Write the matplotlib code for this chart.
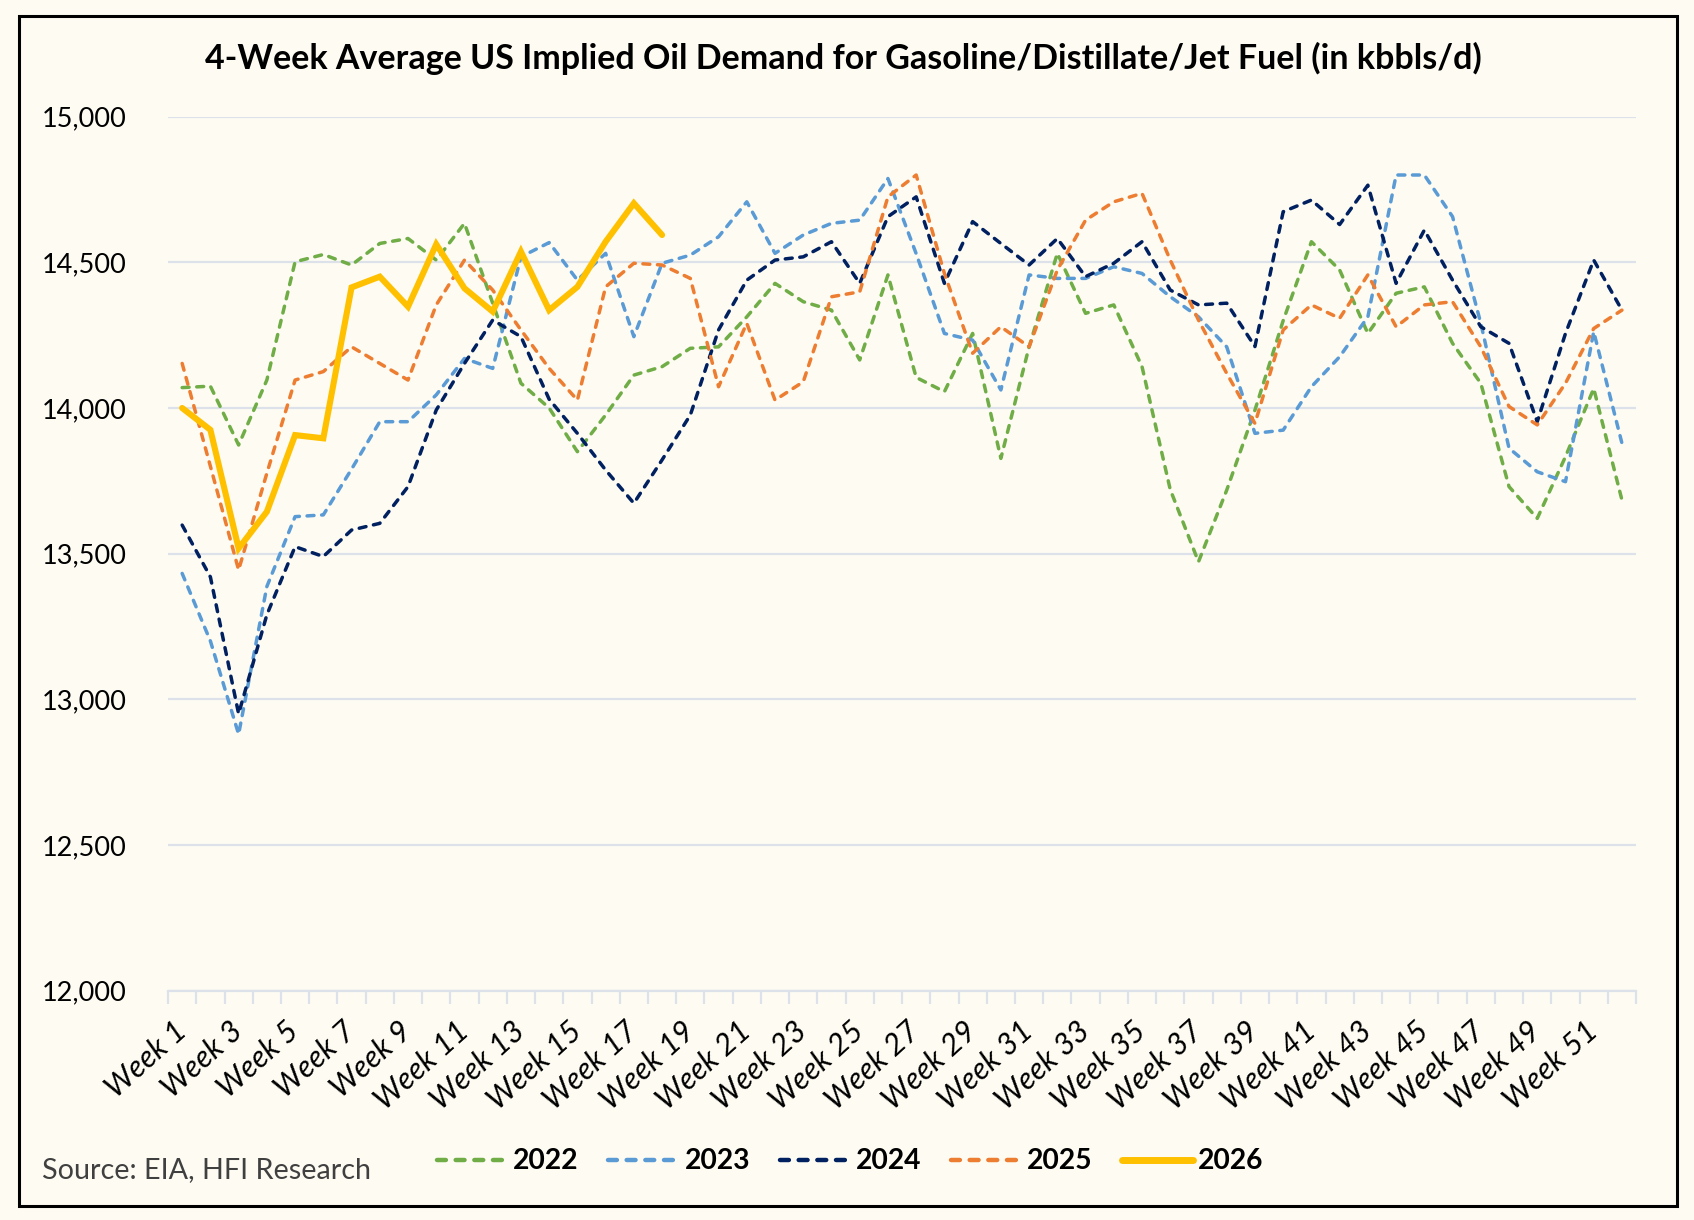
import numpy as np
import matplotlib.pyplot as plt
from matplotlib.patches import Rectangle
from matplotlib.ticker import FuncFormatter

plt.rcParams['font.family'] = ['Lato', 'DejaVu Sans']

weeks = list(range(1, 53))
week_labels = [f"Week {w}" for w in weeks]

y2022 = [14070, 14075, 13873, 14096, 14502, 14527, 14491, 14565, 14582, 14508,
         14634, 14360, 14085, 14000, 13850, 13976, 14113, 14142, 14205, 14210,
         14313, 14428, 14365, 14336, 14165, 14457, 14105, 14056, 14256, 13827,
         14210, 14531, 14325, 14354, 14142, 13720, 13472, 13718, 13993, 14300,
         14571, 14474, 14256, 14394, 14416, 14222, 14085, 13730, 13621, 13833,
         14067, 13684]
y2023 = [13432, 13200, 12880, 13387, 13627, 13633, 13790, 13953, 13953, 14045,
         14170, 14136, 14519, 14568, 14439, 14531, 14245, 14497, 14525, 14588,
         14708, 14531, 14594, 14634, 14645, 14788, 14530, 14256, 14233, 14062,
         14457, 14445, 14445, 14485, 14462, 14382, 14313, 14210, 13913, 13924,
         14073, 14176, 14313, 14800, 14800, 14657, 14291, 13862, 13781, 13747,
         14262, 13879]
y2024 = [13598, 13420, 12950, 13290, 13524, 13490, 13581, 13604, 13730, 13993,
         14153, 14302, 14245, 14030, 13913, 13787, 13673, 13822, 13976, 14268,
         14439, 14508, 14519, 14571, 14428, 14657, 14725, 14428, 14640, 14565,
         14491, 14582, 14451, 14497, 14571, 14405, 14354, 14360, 14211, 14674,
         14714, 14630, 14765, 14428, 14611, 14439, 14279, 14222, 13953, 14256,
         14508, 14336]
y2025 = [14153, 13800, 13444, 13776, 14096, 14125, 14210, 14153, 14096, 14354,
         14508, 14405, 14268, 14136, 14027, 14416, 14497, 14491, 14445, 14073,
         14291, 14027, 14090, 14382, 14399, 14725, 14800, 14462, 14188, 14279,
         14210, 14474, 14645, 14708, 14737, 14508, 14302, 14119, 13947, 14268,
         14354, 14308, 14457, 14279, 14354, 14365, 14210, 14005, 13942, 14085,
         14273, 14336]
y2026 = [14000, 13925, 13518, 13644, 13907, 13896, 14414, 14451, 14348, 14562,
         14411, 14331, 14537, 14336, 14416, 14571, 14703, 14594]

series = [("2022", y2022, "#70AD47"),
          ("2023", y2023, "#5B9BD5"),
          ("2024", y2024, "#002060"),
          ("2025", y2025, "#ED7D31")]

bg = "#FDFBF2"
grid_c = "#DCE1EA"

fig = plt.figure(figsize=(16.94, 12.2), dpi=100, facecolor=bg)
ax = fig.add_axes([0.0992, 0.1881, 0.8666, 0.7162], facecolor=bg)

for name, vals, col in series:
    ax.plot(weeks, vals, color=col, lw=2.5, linestyle=(0, (2.0, 2.2)),
            dash_capstyle='round', label=name)
ax.plot(weeks[:len(y2026)], y2026, color="#FFC000", lw=4.4,
        solid_capstyle='round', solid_joinstyle='miter', label="2026", zorder=5)

ax.set_xlim(0.5, 52.5)
ax.set_ylim(12000, 15000)
ax.set_yticks(np.arange(12000, 15001, 500))
ax.yaxis.set_major_formatter(FuncFormatter(lambda v, p: f"{v:,.0f}"))
ax.grid(axis='y', color=grid_c, lw=1.6)
ax.set_axisbelow(True)
for s in ['top', 'right', 'left']:
    ax.spines[s].set_visible(False)
ax.spines['bottom'].set_color(grid_c)
ax.spines['bottom'].set_linewidth(1.6)

ax.set_xticks(weeks[::2])
ax.set_xticklabels(week_labels[::2], rotation=42, ha='right', va='center',
                   rotation_mode='anchor', fontsize=22, style='italic')
ax.set_xticks(np.arange(0.5, 53, 1), minor=True)
ax.tick_params(axis='x', which='major', length=0, pad=26)
ax.tick_params(axis='x', which='minor', length=9, width=1.6, color=grid_c)
ax.tick_params(axis='y', length=0, pad=30, labelsize=19.5)

fig.text(0.498, 0.952, "4-Week Average US Implied Oil Demand for Gasoline/Distillate/Jet Fuel (in kbbls/d)",
         ha='center', va='center', fontsize=24.5, fontweight='bold')
fig.text(0.025, 0.041, "Source: EIA, HFI Research", ha='left', va='center',
         fontsize=20.7, color="#404040")

leg = fig.legend(loc='center', bbox_to_anchor=(0.502, 0.048), ncol=5, frameon=False,
                 handlelength=2.5, handletextpad=0.2, columnspacing=1.05,
                 prop={'size': 20.3, 'weight': 'bold'})
for h in leg.get_lines():
    h.set_linewidth(3.2)
leg.get_lines()[-1].set_linewidth(5)

fig.patches.append(Rectangle((0.0112, 0.0115), 0.979, 0.975, transform=fig.transFigure,
                             fill=False, edgecolor='black', lw=2.2))

fig.savefig("out.png", dpi=100, facecolor=bg)
